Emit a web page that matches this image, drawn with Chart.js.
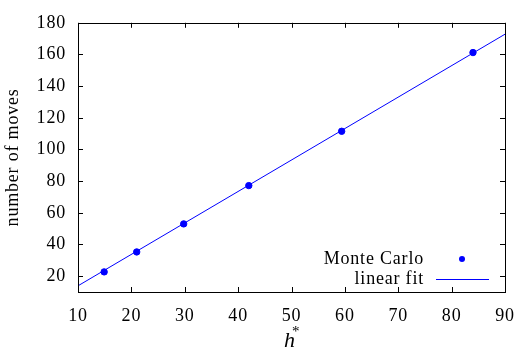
<!DOCTYPE html>
<html>
<head>
<meta charset="utf-8">
<script src="https://cdn.jsdelivr.net/npm/chart.js@4/dist/chart.umd.min.js"></script>
<style>
html,body{margin:0;padding:0;background:#fff;}
#wrap{width:527px;height:351px;}
</style>
</head>
<body>
<div id="wrap"><canvas id="c" width="527" height="351"></canvas></div>
<script>
const hValues = [14.9, 21.0, 29.8, 42.0, 59.4, 84.0];
const moves = [22.7, 35.3, 53.0, 77.2, 111.5, 161.2];
const fitX = [10, 90];
const fitY = [13.9, 172.8];
const xTicks = [10, 20, 30, 40, 50, 60, 70, 80, 90];
const yTicks = [20, 40, 60, 80, 100, 120, 140, 160, 180];
const seriesLabels = ['Monte Carlo', 'linear fit'];
const xTitle = 'h';
const yTitle = 'number of moves';

const FONT = '"Liberation Serif", "Times New Roman", serif';
const BLUE = '#0000ff';
Chart.defaults.font.family = FONT;
Chart.defaults.font.size = 18;
Chart.defaults.color = '#000';

const spacingPlugin = {
  id: 'spacing',
  beforeDraw(chart) { try { chart.ctx.letterSpacing = '0.8px'; } catch (e) {} }
};

const framePlugin = {
  id: 'frame',
  afterDraw(chart) {
    const ctx = chart.ctx;
    const a = chart.chartArea;
    const xs = chart.scales.x, ys = chart.scales.y;
    ctx.save();
    ctx.strokeStyle = '#000';
    ctx.lineWidth = 1;
    ctx.strokeRect(Math.round(a.left) + 0.5, Math.round(a.top) + 0.5,
                   Math.round(a.right - a.left), Math.round(a.bottom - a.top));
    const tl = 5;
    ctx.beginPath();
    xTicks.forEach(v => {
      const px = Math.round(xs.getPixelForValue(v)) + 0.5;
      ctx.moveTo(px, a.bottom); ctx.lineTo(px, a.bottom - tl);
      ctx.moveTo(px, a.top); ctx.lineTo(px, a.top + tl);
    });
    yTicks.forEach(v => {
      const py = Math.round(ys.getPixelForValue(v)) + 0.5;
      ctx.moveTo(a.left, py); ctx.lineTo(a.left + tl, py);
      ctx.moveTo(a.right, py); ctx.lineTo(a.right - tl, py);
    });
    ctx.stroke();

    // x title h*
    ctx.fillStyle = '#000';
    ctx.textBaseline = 'alphabetic';
    ctx.textAlign = 'left';
    ctx.font = 'italic 22px ' + FONT;
    const hx = 284, hy = 347;
    ctx.fillText(xTitle, hx, hy);
    ctx.font = '15px ' + FONT;
    ctx.fillText('*', 292, 336);

    // legend (gnuplot style: text then sample)
    ctx.font = '18px ' + FONT;
    ctx.textAlign = 'right';
    ctx.textBaseline = 'middle';
    const d0 = chart.data.datasets[0], d1 = chart.data.datasets[1];
    ctx.fillText(d0.label, 424, 259);
    ctx.fillText(d1.label, 424, 279);
    ctx.fillStyle = BLUE;
    ctx.beginPath();
    ctx.arc(462, 259, 3, 0, Math.PI * 2);
    ctx.fill();
    ctx.strokeStyle = BLUE;
    ctx.lineWidth = 1;
    ctx.beginPath();
    ctx.moveTo(436, 279.5); ctx.lineTo(489, 279.5);
    ctx.stroke();
    ctx.restore();
  }
};

new Chart(document.getElementById('c'), {
  type: 'scatter',
  data: {
    datasets: [
      {
        label: seriesLabels[0],
        data: hValues.map((x, i) => ({x: x, y: moves[i]})),
        backgroundColor: BLUE,
        borderColor: BLUE,
        pointRadius: 3.2,
        pointHoverRadius: 3.2,
        showLine: false,
        order: 0
      },
      {
        label: seriesLabels[1],
        data: fitX.map((x, i) => ({x: x, y: fitY[i]})),
        borderColor: BLUE,
        backgroundColor: BLUE,
        borderWidth: 1,
        pointRadius: 0,
        showLine: true,
        order: 1
      }
    ]
  },
  options: {
    responsive: false,
    animation: false,
    events: [],
    layout: { padding: { top: 15, right: 14, left: 0, bottom: 0 } },
    plugins: { legend: { display: false }, tooltip: { enabled: false } },
    scales: {
      x: {
        type: 'linear',
        min: 10, max: 90,
        afterBuildTicks: s => { s.ticks = xTicks.map(v => ({value: v})); },
        afterFit: s => { s.height = 59; },
        grid: { display: false, drawTicks: false },
        border: { display: false },
        ticks: { color: '#000', font: { family: FONT, size: 18 }, padding: 13, maxRotation: 0, autoSkip: false }
      },
      y: {
        type: 'linear',
        min: 10, max: 180,
        afterBuildTicks: s => { s.ticks = yTicks.map(v => ({value: v})); },
        afterFit: s => { s.width = 78; },
        grid: { display: false, drawTicks: false },
        border: { display: false },
        title: { display: true, text: yTitle, color: '#000', font: { family: FONT, size: 18 }, padding: { top: 2, bottom: 0 } },
        ticks: { color: '#000', font: { family: FONT, size: 18 }, padding: 12, autoSkip: false }
      }
    }
  },
  plugins: [spacingPlugin, framePlugin]
});
</script>
</body>
</html>
